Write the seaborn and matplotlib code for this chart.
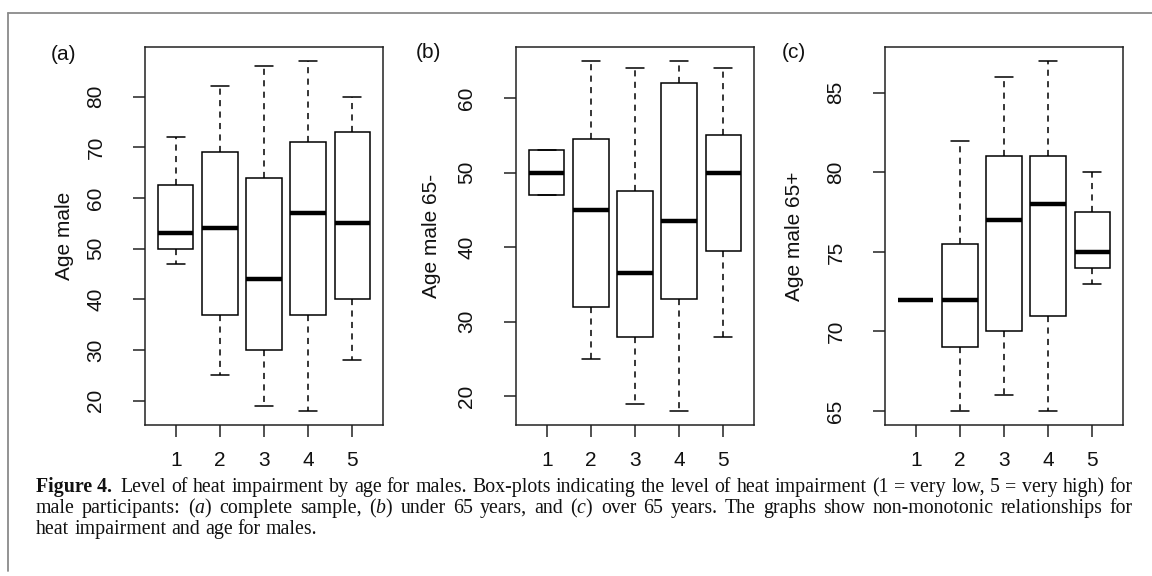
import numpy as np
import pandas as pd
import matplotlib.pyplot as plt
from matplotlib.lines import Line2D
from matplotlib.ticker import MultipleLocator
import seaborn as sns

# niveis de "heat impairment"
levels = ["1", "2", "3", "4", "5"]

# resumo de 5 numeros: bigode inf, Q1, mediana, Q3, bigode sup
all_low = [47, 25, 19, 18, 28]
all_q1 = [50, 37, 30, 37, 40]
all_med = [53, 54, 44, 57, 55]
all_q3 = [62.5, 69, 64, 71, 73]
all_high = [72, 82, 86, 87, 80]

under_low = [47, 25, 19, 18, 28]
under_q1 = [47, 32, 28, 33, 39.5]
under_med = [50, 45, 36.5, 43.5, 50]
under_q3 = [53, 54.5, 47.5, 62, 55]
under_high = [53, 65, 64, 65, 64]

over_low = [72, 65, 66, 65, 73]
over_q1 = [72, 69, 70, 71, 74]
over_med = [72, 72, 77, 78, 75]
over_q3 = [72, 75.5, 81, 81, 77.5]
over_high = [72, 82, 86, 87, 80]

panel_tags = ["(a)", "(b)", "(c)"]
y_labels = ["Age male", "Age male 65-", "Age male 65+"]
y_steps = [10, 10, 5]

caption_lines = [
    "Level of heat impairment by age for males. Box-plots indicating "
    "the level of heat impairment (1 = very low, 5 = very high) for",
    r"male participants: ($\mathit{a}$) complete sample, ($\mathit{b}$) under 65 years, "
    r"and ($\mathit{c}$) over 65 years. The graphs show non-monotonic relationships for",
    "heat impairment and age for males.",
]


def long_table(low, q1, med, q3, high):
    rows = []
    for i, lev in enumerate(levels):
        for v in (low[i], q1[i], med[i], q3[i], high[i]):
            rows.append({"level": lev, "age": v})
    return pd.DataFrame(rows)


tables = [
    long_table(all_low, all_q1, all_med, all_q3, all_high),
    long_table(under_low, under_q1, under_med, under_q3, under_high),
    long_table(over_low, over_q1, over_med, over_q3, over_high),
]

sns.set_theme(style="ticks")
plt.rcParams["font.family"] = ["Liberation Sans", "DejaVu Sans"]
plt.rcParams["mathtext.fontset"] = "custom"
plt.rcParams["mathtext.rm"] = "Liberation Serif"
plt.rcParams["mathtext.it"] = "Liberation Serif:italic"

W, H = 1152, 576
fig = plt.figure(figsize=(W / 100, H / 100), dpi=100)
fig.patch.set_facecolor("white")

lefts = [145, 516, 885]
label_x = [-0.298, -0.315, -0.340]
tag_pos = [(63, 54), (428, 53), (794, 53)]

for k in range(3):
    ax = fig.add_axes([lefts[k] / W, 1 - 425 / H, 238 / W, 378 / H])
    df = tables[k]
    sns.boxplot(data=df, x="level", y="age", order=levels, ax=ax,
                whis=(0, 100), width=0.8, color="white", linecolor="black",
                linewidth=1.1, saturation=1,
                medianprops={"linewidth": 3.2, "solid_capstyle": "butt"},
                whiskerprops={"linestyle": (0, (4, 3.5))})
    lo, hi = df["age"].min(), df["age"].max()
    pad = 0.04 * (hi - lo)
    ax.set_ylim(lo - pad, hi + pad)
    ax.set_xlim(-0.7, 4.7)
    ax.yaxis.set_major_locator(MultipleLocator(y_steps[k]))
    ax.set_xlabel("")
    ax.set_ylabel(y_labels[k], fontsize=15, color="#111111")
    ax.yaxis.set_label_coords(label_x[k], 0.5)
    for s in ax.spines.values():
        s.set_visible(True)
        s.set_linewidth(1.1)
        s.set_color("#222222")
    ax.tick_params(axis="both", length=8.5, width=1.1, color="#222222",
                   labelsize=15, labelcolor="#111111")
    ax.tick_params(axis="x", pad=10.5)
    ax.tick_params(axis="y", pad=20, labelrotation=90)
    for t in ax.get_yticklabels():
        t.set_va("center")
    fig.text(tag_pos[k][0] / W, 1 - tag_pos[k][1] / H, panel_tags[k],
             ha="center", va="center", fontsize=15, color="#111111")

# moldura da figura (topo e lado esquerdo)
fig.add_artist(Line2D([8 / W, 1], [1 - 13 / H, 1 - 13 / H],
                      transform=fig.transFigure, color="#8a8a8a", lw=1.3))
fig.add_artist(Line2D([8 / W, 8 / W], [1 - 13 / H, 1 - 571 / H],
                      transform=fig.transFigure, color="#8a8a8a", lw=1.3))

# legenda da figura, justificada palavra por palavra
cap_font = ["Liberation Serif", "DejaVu Serif"]
cap_size = 14.3
renderer = fig.canvas.get_renderer()


def text_width(s, **kw):
    t = fig.text(0, 0, s, family=cap_font, fontsize=cap_size, **kw)
    w = t.get_window_extent(renderer).width
    t.remove()
    return w


def put_line(words, x0, x1, y, justify, bold_first=False):
    styles = [{"fontweight": "bold"} if (bold_first and i == 0) else {}
              for i in range(len(words))]
    widths = [text_width(w, **st) for w, st in zip(words, styles)]
    space = text_width("a a") - text_width("aa")
    gaps = [space] * (len(words) - 1)
    if bold_first:
        gaps[0] = space * 1.6
    if justify:
        extra = (x1 - x0) - sum(widths) - sum(gaps)
        gaps = [g + extra / len(gaps) for g in gaps]
    x = x0
    for i, (w, st) in enumerate(zip(words, styles)):
        fig.text(x / W, 1 - y / H, w, family=cap_font, fontsize=cap_size,
                 va="baseline", color="#111111", **st)
        if i < len(gaps):
            x += widths[i] + gaps[i]


put_line(["Figure 4."] + caption_lines[0].split(" "), 36, 1133, 492, True,
         bold_first=True)
put_line(caption_lines[1].split(" "), 36, 1133, 513, True)
put_line(caption_lines[2].split(" "), 36, 1133, 534, False)

fig.savefig("out.png", dpi=100, facecolor="white")
